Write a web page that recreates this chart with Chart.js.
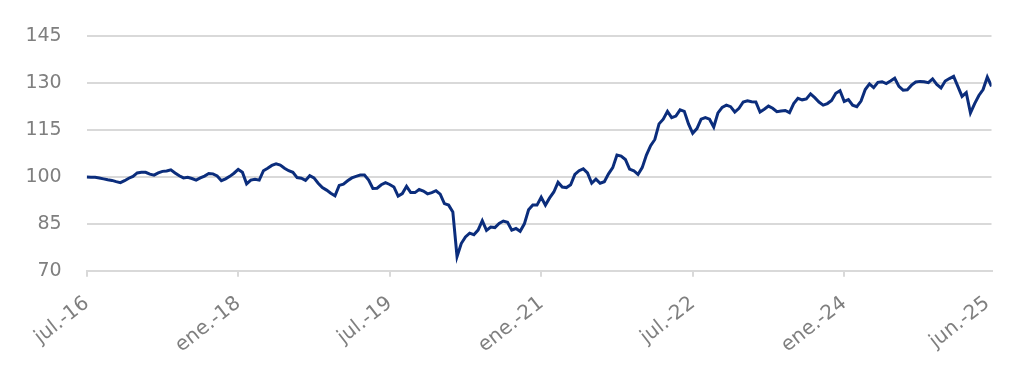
<!DOCTYPE html>
<html><head><meta charset="utf-8">
<script src="https://cdn.jsdelivr.net/npm/chart.js@4.4.1/dist/chart.umd.min.js"></script>
<style>html,body{margin:0;padding:0;background:#fff;} #wrap{width:1024px;height:375px;position:relative;}</style>
</head><body><div id="wrap"><canvas id="c" width="1024" height="375"></canvas></div>
<script>
// Index level, sampled every half month starting jul.-16
const series = [
100,99.9,99.9,99.7,99.4,99.1,98.9,98.5,98.2,98.8,
99.6,100.2,101.3,101.5,101.5,100.9,100.6,101.3,101.8,101.9,
102.3,101.3,100.4,99.7,99.9,99.5,99.0,99.7,100.3,101.1,
101.0,100.3,98.8,99.4,100.2,101.2,102.4,101.5,97.8,99.0,
99.3,99.0,102.0,102.8,103.7,104.2,103.8,102.8,102.0,101.5,
99.8,99.6,98.9,100.4,99.7,98.0,96.6,95.8,94.8,94.0,
97.3,97.7,98.8,99.7,100.2,100.6,100.6,99.0,96.3,96.4,
97.5,98.2,97.6,96.8,93.9,94.7,97.0,95.0,95.0,96.0,
95.5,94.6,95.0,95.6,94.5,91.5,91.0,88.8,74.5,78.7,
80.8,82.0,81.5,83.0,86.0,82.9,84.0,83.8,85.1,85.9,
85.5,83.0,83.5,82.6,85.0,89.5,91.0,91.0,93.5,91.0,
93.3,95.2,98.3,96.8,96.6,97.5,100.8,102.0,102.6,101.3,
98.0,99.3,98.0,98.5,101.0,103.0,107.0,106.7,105.6,102.5,
102.0,100.8,103.0,107.0,110.0,112.0,117.0,118.5,121.0,119.0,
119.5,121.5,121.0,117.0,114.0,115.5,118.5,119.0,118.5,116.0,
120.5,122.3,123.0,122.5,120.8,122.0,124.0,124.4,124.1,124.0,
120.8,121.7,122.7,122.0,120.9,121.1,121.3,120.6,123.5,125.2,
124.7,125.0,126.6,125.4,124.0,123.0,123.5,124.5,126.8,127.6,
124.2,124.8,123.0,122.5,124.3,128.0,129.8,128.6,130.3,130.5,
129.9,130.7,131.6,129.0,127.8,127.9,129.4,130.4,130.6,130.5,
130.2,131.4,129.6,128.5,130.7,131.5,132.2,129.0,125.8,127.0,
120.5,123.5,126.1,128.0,132.0,129.0
];
const stepMonths = 0.5;
const tickMonths = [0, 18, 36, 54, 72, 90, 107];
const tickLabels = ['jul.-16', 'ene.-18', 'jul.-19', 'ene.-21', 'jul.-22', 'ene.-24', 'jun.-25'];
const yTicks = [70, 85, 100, 115, 130, 145];

const labelColor = '#7f7f7f';
const gridColor = '#d9d9d9';
const yFont = { family: 'DejaVu Sans', size: 19 };
const xFont = { family: 'DejaVu Sans', size: 20 };

new Chart(document.getElementById('c').getContext('2d'), {
  type: 'line',
  data: {
    datasets: [{
      data: series.map((v, i) => ({ x: i * stepMonths, y: v })),
      borderColor: '#0b2d7c',
      borderWidth: 3,
      pointRadius: 0,
      tension: 0,
      fill: false
    }]
  },
  options: {
    responsive: false,
    animation: false,
    layout: { padding: { left: 0, right: 32.5, top: 34, bottom: 0 } },
    plugins: { legend: { display: false }, tooltip: { enabled: false } },
    scales: {
      x: {
        type: 'linear',
        min: 0,
        max: (series.length - 1) * stepMonths,
        afterBuildTicks: s => { s.ticks = tickMonths.map(v => ({ value: v })); },
        afterFit: s => { s.height = 375 - 270.7; },
        ticks: {
          autoSkip: false, minRotation: 38, maxRotation: 38, padding: 15,
          color: labelColor, font: xFont,
          callback: v => tickLabels[tickMonths.indexOf(v)]
        },
        grid: {
          drawOnChartArea: false, drawTicks: true, tickLength: 6, lineWidth: 2,
          color: c => (c.index === tickMonths.length - 1 ? 'rgba(0,0,0,0)' : gridColor)
        },
        border: { display: true, color: gridColor, width: 2 }
      },
      y: {
        min: 70, max: 145,
        afterBuildTicks: s => { s.ticks = yTicks.map(v => ({ value: v })); },
        afterFit: s => { s.width = 86.7; },
        ticks: { padding: 25, color: labelColor, font: yFont },
        grid: { color: gridColor, lineWidth: 2, drawTicks: false },
        border: { display: false }
      }
    }
  }
});
</script>
</body></html>
